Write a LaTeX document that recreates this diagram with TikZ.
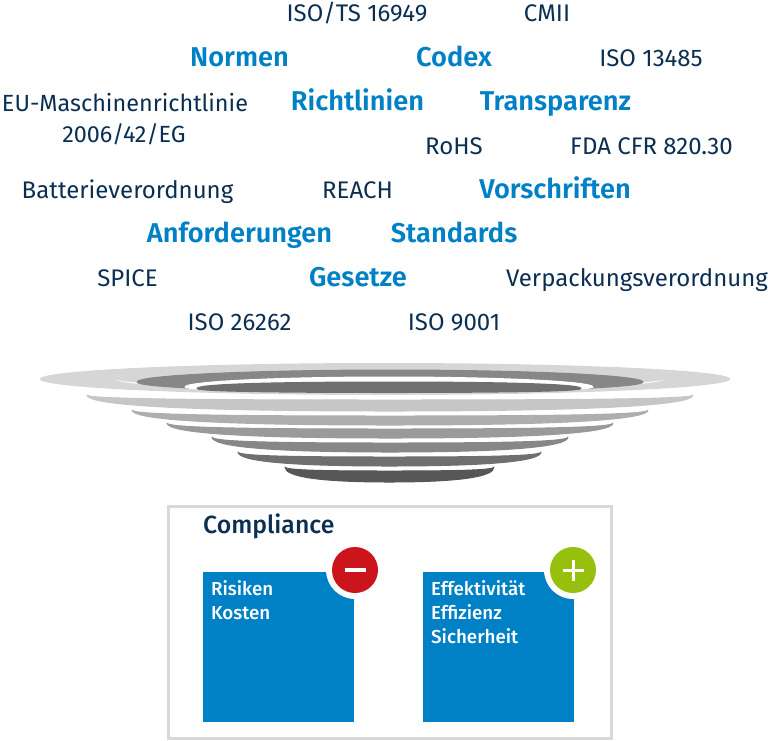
\documentclass[tikz,border=0pt]{standalone}
\usepackage{fontspec}
\setmainfont{Fira Sans}
\newfontfamily\semifont{Fira Sans SemiBold}
\newfontfamily\medfont{Fira Sans Medium}
\definecolor{navy}{HTML}{0B2F52}
\definecolor{cblue}{HTML}{0080C5}
\definecolor{frame}{HTML}{D9D9D9}
\definecolor{cred}{HTML}{CC141C}
\definecolor{cgreen}{HTML}{97BF0D}
\definecolor{g1}{HTML}{D6D6D6}
\definecolor{g2}{HTML}{C6C6C6}
\definecolor{g3}{HTML}{AEAEAE}
\definecolor{g4}{HTML}{9A9A9A}
\definecolor{g5}{HTML}{878787}
\definecolor{g6}{HTML}{6F6F6F}
\definecolor{g7}{HTML}{575757}
\tikzset{
  x=1pt,y=-1pt,
  term/.style={text=navy,font=\fontsize{24}{28}\selectfont,anchor=base,inner sep=0pt},
  termtight/.style={text=navy,font=\fontsize{23.4}{28}\selectfont,anchor=base,inner sep=0pt},
  key/.style={text=cblue,font=\fontsize{27.2}{32}\selectfont\semifont,anchor=base,inner sep=0pt},
  panel/.style={fill=cblue,draw=none,minimum width=151pt,minimum height=150pt,anchor=north west,inner sep=0pt},
  paneltext/.style={text=white,font=\fontsize{18.8}{24}\selectfont\medfont,anchor=base west,inner sep=0pt},
  badgering/.style={circle,fill=white,minimum size=58pt,inner sep=0pt},
  badge/.style={circle,minimum size=46pt,inner sep=0pt},
  sign/.style={draw=white,line width=3pt},
}
% left, right, tip y, top y, bottom y, colour, fullness of the top edge, fullness of the bottom edge
\newcommand{\crescentk}[8]{%
  \pgfmathsetmacro{\cx}{(#1+#2)/2}
  \pgfmathsetmacro{\rx}{(#2-#1)/2}
  \pgfmathsetmacro{\bb}{#3+#8*(#5-#3)}
  \pgfmathsetmacro{\tt}{#3+#7*(#4-#3)}
  \pgfmathsetmacro{\bl}{\cx-#8*\rx}
  \pgfmathsetmacro{\br}{\cx+#8*\rx}
  \pgfmathsetmacro{\tl}{\cx-#7*\rx}
  \pgfmathsetmacro{\tr}{\cx+#7*\rx}
  \fill[#6,draw=#6,line width=1pt,line join=round]
    (#1,#3) .. controls (#1,\bb) and (\bl,#5) .. (\cx,#5)
            .. controls (\br,#5) and (#2,\bb) .. (#2,#3)
            .. controls (#2,\tt) and (\tr,#4) .. (\cx,#4)
            .. controls (\tl,#4) and (#1,\tt) .. (#1,#3) -- cycle;
}
\newcommand{\crescent}[6]{\crescentk{#1}{#2}{#3}{#4}{#5}{#6}{0.72}{0.66}}
\begin{document}
\begin{tikzpicture}
\useasboundingbox (0,0) rectangle (768,740);
% terms
\node[term] (t1) at (357,21) {ISO/TS 16949};
\node[term] (t2) at (547,21) {CMII};
\node[key] (k1) at (239.5,66) {Normen};
\node[key] (k2) at (454,66) {Codex};
\node[term] (t3) at (651,66) {ISO 13485};
\node[termtight] (t4) at (125,111) {EU-Maschinenrichtlinie};
\node[key] (k3) at (357.5,110) {Richtlinien};
\node[key] (k4) at (555.5,110) {Transparenz};
\node[termtight] (t5) at (124,142) {2006/42/EG};
\node[term] (t6) at (454,154) {RoHS};
\node[term] (t7) at (651.5,154) {FDA CFR 820.30};
\node[term] (t8) at (127.5,198) {Batterieverordnung};
\node[term] (t9) at (357.5,198) {REACH};
\node[key] (k5) at (555,198) {Vorschriften};
\node[key] (k6) at (239.5,242) {Anforderungen};
\node[key] (k7) at (454,242) {Standards};
\node[term] (t10) at (127.5,286) {SPICE};
\node[key] (k8) at (358,286) {Gesetze};
\node[term] (t11) at (637,286) {Verpackungsverordnung};
\node[term] (t12) at (239.5,330) {ISO 26262};
\node[term] (t13) at (454,330) {ISO 9001};
% dish
\fill[g1] (385,379) ellipse[x radius=345.5,y radius=16];
\fill[white] (115,379) arc[start angle=180,end angle=0,x radius=274.5,y radius=9] arc[start angle=0,end angle=180,x radius=274.5,y radius=12] -- cycle;
\crescentk{137}{643}{382}{370}{392}{g5}{0.55}{0.55}
\crescentk{185}{593}{387}{377}{392.7}{white}{0.55}{0.55}
\crescentk{197}{581}{388.5}{382}{392.5}{g6}{0.65}{0.65}
\crescent{87}{693}{395}{400}{411}{g2}
\crescent{132}{648}{410}{416}{425}{g3}
\crescent{167}{613}{423}{429}{438}{g4}
\crescent{212}{568}{437}{443}{452}{g5}
\crescent{238}{541}{452}{457}{466}{g6}
\crescent{285}{494}{467}{471}{482}{g7}
% frame
\draw[frame,line width=3pt] (168,506) rectangle (611,738);
\node[text=navy,font=\fontsize{24.8}{28}\selectfont\medfont,anchor=base west,inner sep=0pt] (title) at (203,533) {Compliance};
% panels
\node[panel] (p1) at (203,572) {};
\node[panel] (p2) at (423,572) {};
\node[badgering] (r1) at (355,570) {};
\node[badgering] (r2) at (573,570) {};
\node[badge,fill=cred] (b1) at (355,570) {};
\node[badge,fill=cgreen] (b2) at (573,570) {};
\draw[sign,line width=3.6pt] ([xshift=-10.5pt]b1.center) -- ([xshift=10.5pt]b1.center);
\draw[sign] ([xshift=-10.5pt]b2.center) -- ([xshift=10.5pt]b2.center);
\draw[sign] ([yshift=-10.5pt]b2.center) -- ([yshift=10.5pt]b2.center);
\node[paneltext] (a1) at (211,595) {Risiken};
\node[paneltext] (a2) at (211,619) {Kosten};
\node[paneltext] (c1) at (431,595) {Effektivität};
\node[paneltext] (c2) at (431,619) {Effizienz};
\node[paneltext] (c3) at (431,643) {Sicherheit};
\end{tikzpicture}
\end{document}
